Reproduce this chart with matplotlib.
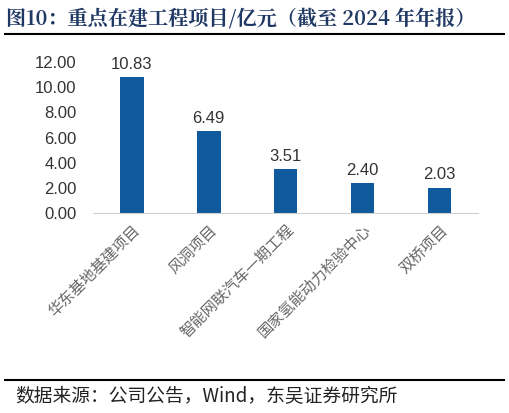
import matplotlib
matplotlib.use('Agg')
import numpy as np
from matplotlib import pyplot as plt

plt.rcParams['font.family'] = ['Liberation Sans', 'Noto Sans CJK SC', 'DejaVu Sans']

categories = ['华东基地基建项目', '风洞项目', '智能网联汽车一期工程', '国家氢能动力检验中心', '双桥项目']
values = [10.83, 6.49, 3.51, 2.40, 2.03]

fig = plt.figure(figsize=(5.09, 4.13), dpi=100)
ax = fig.add_axes([0.183, 0.484, 0.756, 0.366])

x = np.arange(len(categories))
ax.bar(x, values, width=0.31, color='#0F5A9C')
for xi, v in zip(x, values):
    ax.text(xi, v + 0.4, f'{v:.2f}', ha='center', va='bottom', fontsize=12, color='#333333')

ax.set_ylim(0, 12)
ax.set_yticks(np.arange(0, 13, 2))
ax.set_yticklabels([f'{t:.2f}' for t in np.arange(0, 13, 2)], fontsize=12, color='#333333')
ax.set_xlim(-0.5, len(categories) - 0.5)
ax.set_xticks(x)
ax.set_xticklabels(categories, rotation=45, ha='right', rotation_mode='anchor',
                   fontsize=11, color='#666666', family=['Noto Sans CJK SC'])
for s in ['top', 'right', 'left']:
    ax.spines[s].set_visible(False)
ax.spines['bottom'].set_color('#d0d0d0')
ax.tick_params(axis='both', length=0)
ax.tick_params(axis='y', pad=12)
ax.tick_params(axis='x', pad=6)

fig.text(0.012, 0.955, '图10：重点在建工程项目/亿元（截至 2024 年年报）', fontsize=14.5, fontweight='bold',
         color='#1F3864', family=['Noto Serif CJK SC', 'Noto Sans CJK SC'], va='center')
fig.add_artist(plt.Line2D([0.01, 0.99], [0.918, 0.918], color='black', lw=1.5))
fig.add_artist(plt.Line2D([0.01, 0.99], [0.08, 0.08], color='black', lw=1.5))
fig.text(0.03, 0.04, '数据来源：公司公告，Wind，东吴证券研究所', fontsize=13.5, color='#222222',
         family=['Noto Sans CJK SC'], va='center')

fig.savefig('out.png', dpi=100)
